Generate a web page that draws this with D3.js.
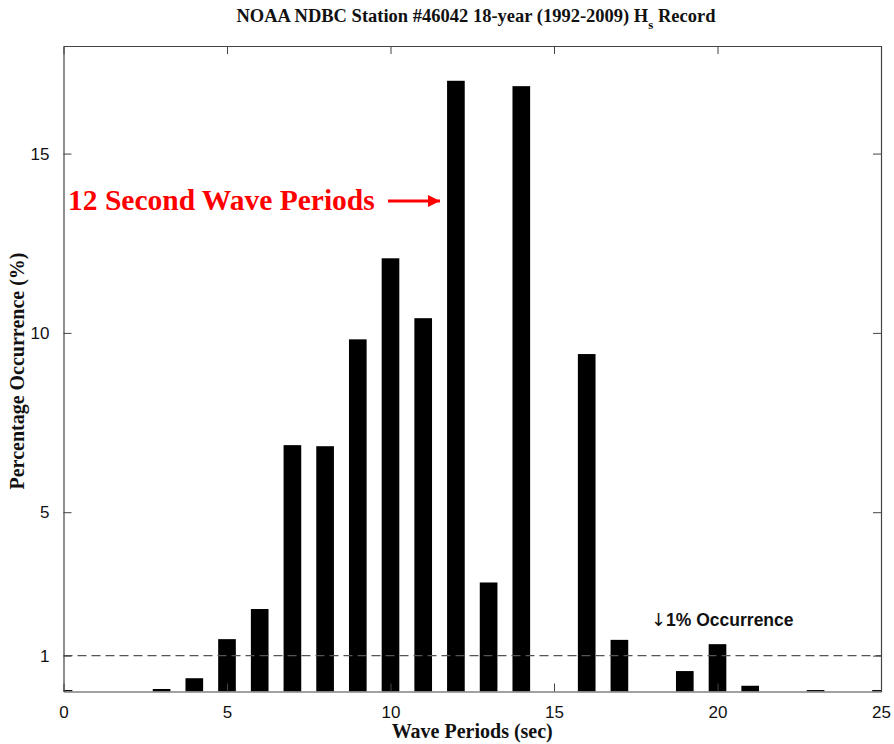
<!DOCTYPE html>
<html>
<head>
<meta charset="utf-8">
<script src="https://cdn.jsdelivr.net/npm/d3@7"></script>
<style>
  html, body { margin: 0; padding: 0; background: #fff; }
  svg { display: block; }
</style>
</head>
<body>
<svg id="chart" width="894" height="744"></svg>
<script>
// Wave period bins (s) and percentage occurrence of each bin
const periods = [0, 3, 4, 5, 6, 7, 8, 9, 10, 11, 12, 13, 14, 16, 17, 19, 20, 21, 23, 25];
const occurrence = [0.04, 0.07, 0.37, 1.46, 2.3, 6.87, 6.84, 9.82, 12.08, 10.41, 17.03, 3.04, 16.88, 9.41, 1.44, 0.57, 1.32, 0.16, 0.04, 0.04];
const xTicks = [0, 5, 10, 15, 20, 25];
const yTicks = [1, 5, 10, 15];
const thresholdPct = 1;

const svg = d3.select("#chart");
const m = { left: 63.5, right: 881, top: 46, bottom: 691.5 };

const x = d3.scaleLinear().domain([0, 25]).range([m.left, m.right]);
const y = d3.scaleLinear().domain([0, 18]).range([m.bottom, m.top]);
const barW = (x(1) - x(0)) * 0.54;

// Clip bars to the axes box
svg.append("clipPath").attr("id", "plotClip")
  .append("rect")
  .attr("x", m.left).attr("y", m.top)
  .attr("width", m.right - m.left).attr("height", m.bottom - m.top);

const bars = svg.append("g").attr("clip-path", "url(#plotClip)");
bars.selectAll("rect")
  .data(periods.map((p, i) => ({ p, v: occurrence[i] })))
  .join("rect")
  .attr("x", d => x(d.p) - barW / 2)
  .attr("y", d => y(d.v))
  .attr("width", barW)
  .attr("height", d => y(0) - y(d.v))
  .attr("fill", "#000");

// 1% reference line
svg.append("line")
  .attr("x1", m.left).attr("x2", m.right)
  .attr("y1", y(thresholdPct)).attr("y2", y(thresholdPct))
  .attr("stroke", "#555").attr("stroke-width", 1.2)
  .attr("stroke-dasharray", "9,5");

// Axes with inward ticks on all four sides
const tickFont = "Liberation Sans, Arial, sans-serif";
const styleAxis = g => {
  g.select(".domain").attr("stroke", "#444").attr("stroke-width", 1.2);
  g.selectAll(".tick line").attr("stroke", "#444").attr("stroke-width", 1);
  g.selectAll(".tick text").attr("font-family", tickFont).attr("font-size", 17).attr("fill", "#111");
};

svg.append("g").attr("transform", `translate(0,${m.bottom})`)
  .call(d3.axisBottom(x).tickValues(xTicks).tickFormat(d3.format("d")).tickSizeInner(-8).tickSizeOuter(0).tickPadding(14))
  .call(styleAxis);
svg.append("g").attr("transform", `translate(0,${m.top})`)
  .call(d3.axisTop(x).tickValues(xTicks).tickSizeInner(-8).tickSizeOuter(0).tickFormat(""))
  .call(styleAxis);
svg.append("g").attr("transform", `translate(${m.left},0)`)
  .call(d3.axisLeft(y).tickValues(yTicks).tickFormat(d3.format("d")).tickSizeInner(-8).tickSizeOuter(0).tickPadding(14))
  .call(styleAxis);
svg.append("g").attr("transform", `translate(${m.right},0)`)
  .call(d3.axisRight(y).tickValues(yTicks).tickSizeInner(-8).tickSizeOuter(0).tickFormat(""))
  .call(styleAxis);

// Title with subscript s
const serif = "Liberation Serif, Times New Roman, serif";
const title = svg.append("text")
  .attr("x", 476).attr("y", 22)
  .attr("text-anchor", "middle")
  .attr("font-family", serif).attr("font-size", 18.5).attr("font-weight", "bold").attr("fill", "#111");
title.append("tspan").text("NOAA NDBC Station #46042 18-year (1992-2009) H");
title.append("tspan").attr("dy", 7).attr("font-size", 13).text("s");
title.append("tspan").attr("dy", -7).text(" Record");

// Axis titles
svg.append("text")
  .attr("x", x(12.5)).attr("y", 738)
  .attr("text-anchor", "middle")
  .attr("font-family", serif).attr("font-size", 20).attr("font-weight", "bold").attr("fill", "#111")
  .text("Wave Periods (sec)");
svg.append("text")
  .attr("transform", `translate(24,371) rotate(-90)`)
  .attr("text-anchor", "middle")
  .attr("font-family", serif).attr("font-size", 20).attr("font-weight", "bold").attr("fill", "#111")
  .text("Percentage Occurrence (%)");

// Annotations
svg.append("text")
  .attr("x", 68).attr("y", 210)
  .attr("font-family", serif).attr("font-size", 29.5).attr("font-weight", "bold").attr("fill", "#f00")
  .text("12 Second Wave Periods");

svg.append("defs").append("marker")
  .attr("id", "arrowHead").attr("viewBox", "0 0 10 10")
  .attr("refX", 10).attr("refY", 5)
  .attr("markerWidth", 16).attr("markerHeight", 12).attr("markerUnits", "userSpaceOnUse")
  .attr("orient", "auto")
  .append("path").attr("d", "M0,0 L10,5 L0,10 Z").attr("fill", "#f00");

svg.append("line")
  .attr("x1", 388).attr("x2", 440)
  .attr("y1", 201).attr("y2", 201)
  .attr("stroke", "#f00").attr("stroke-width", 3)
  .attr("marker-end", "url(#arrowHead)");

const occ = svg.append("text")
  .attr("x", 651).attr("y", 626)
  .attr("font-family", tickFont).attr("font-size", 17.5).attr("font-weight", "bold").attr("fill", "#111");
occ.append("tspan").attr("font-family", "DejaVu Sans, sans-serif").attr("font-weight", "normal").attr("font-size", 18).text("↓");
occ.append("tspan").text("1% Occurrence");
</script>
</body>
</html>
